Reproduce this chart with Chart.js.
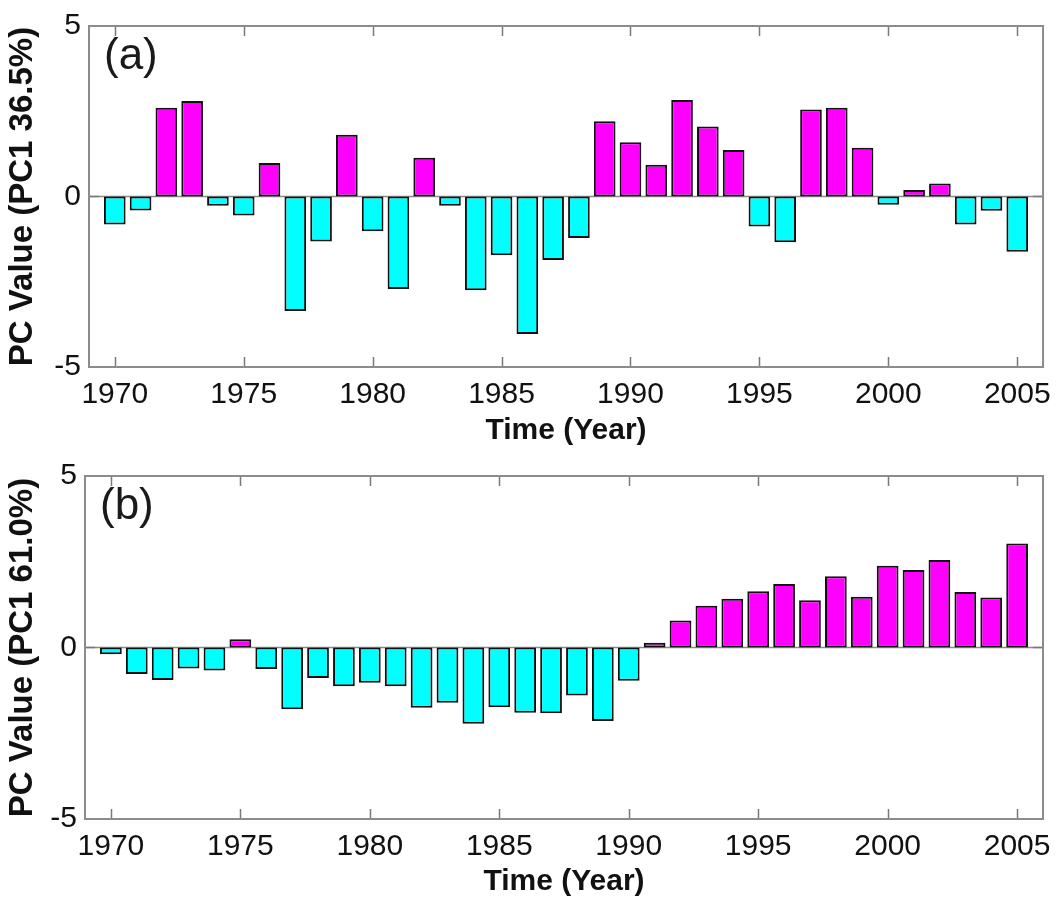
<!DOCTYPE html>
<html>
<head>
<meta charset="utf-8">
<title>PC1 time series</title>
<script src="https://cdn.jsdelivr.net/npm/chart.js@4.4.1/dist/chart.umd.min.js"></script>
<style>
  html, body { margin: 0; padding: 0; background: #fff; }
  canvas { display: block; }
</style>
</head>
<body>
<canvas id="panel-a" width="1061" height="450"></canvas>
<canvas id="panel-b" width="1061" height="450"></canvas>
<script>
// Years on the x axis, one bar per year
const years = [1970, 1971, 1972, 1973, 1974, 1975, 1976, 1977, 1978, 1979,
  1980, 1981, 1982, 1983, 1984, 1985, 1986, 1987, 1988, 1989,
  1990, 1991, 1992, 1993, 1994, 1995, 1996, 1997, 1998, 1999,
  2000, 2001, 2002, 2003, 2004, 2005];

// PC1 scores, panel (a)
const pcA = [-0.82, -0.41, 2.60, 2.80, -0.27, -0.56, 0.98, -3.36, -1.32, 1.81,
  -1.02, -2.71, 1.14, -0.27, -2.75, -1.72, -4.03, -1.86, -1.22, 2.21,
  1.59, 0.93, 2.83, 2.05, 1.36, -0.88, -1.34, 2.55, 2.60, 1.43,
  -0.24, 0.19, 0.38, -0.82, -0.42, -1.62];

// PC1 scores, panel (b)
const pcB = [-0.20, -0.77, -0.95, -0.61, -0.67, 0.24, -0.63, -1.80, -0.89, -1.13,
  -1.03, -1.13, -1.76, -1.61, -2.22, -1.74, -1.90, -1.92, -1.40, -2.14,
  -0.97, 0.14, 0.79, 1.22, 1.42, 1.64, 1.85, 1.38, 2.08, 1.48,
  2.38, 2.26, 2.55, 1.62, 1.46, 3.03];

const xTicks = [1970, 1975, 1980, 1985, 1990, 1995, 2000, 2005];
const yTicks = [-5, 0, 5];

const FONT = '"Liberation Sans", Arial, sans-serif';
const POS_COLOR = '#ff00ff';
const NEG_COLOR = '#00ffff';

// zero baseline behind the bars, then box, inward ticks and panel tag on top
const framePlugin = {
  id: 'frame',
  beforeDatasetsDraw(chart) {
    const { ctx, chartArea: a, scales: { y } } = chart;
    const y0 = y.getPixelForValue(0);
    ctx.save();
    ctx.strokeStyle = '#8a8a8a';
    ctx.lineWidth = 1.5;
    ctx.beginPath();
    ctx.moveTo(a.left, y0);
    ctx.lineTo(a.right, y0);
    ctx.stroke();
    ctx.restore();
  },
  afterDatasetsDraw(chart, args, opts) {
    const { ctx, chartArea: a, scales: { x, y } } = chart;
    ctx.save();
    ctx.strokeStyle = '#7a7a7a';
    ctx.lineWidth = 1.5;
    ctx.beginPath();
    xTicks.forEach(v => {
      const px = Math.round(x.getPixelForValue(v)) + 0.5;
      ctx.moveTo(px, a.top);
      ctx.lineTo(px, a.top + 10);
      ctx.moveTo(px, a.bottom);
      ctx.lineTo(px, a.bottom - 10);
    });
    yTicks.forEach(v => {
      const py = y.getPixelForValue(v);
      ctx.moveTo(a.left, py);
      ctx.lineTo(a.left + 10, py);
      ctx.moveTo(a.right, py);
      ctx.lineTo(a.right - 10, py);
    });
    ctx.stroke();

    ctx.strokeStyle = '#8c8c8c';
    ctx.lineWidth = 2;
    ctx.strokeRect(a.left, a.top, a.right - a.left, a.bottom - a.top);

    ctx.fillStyle = '#1a1a1a';
    ctx.font = '44px ' + FONT;
    ctx.textAlign = 'left';
    ctx.textBaseline = 'middle';
    ctx.fillText(opts.tag, a.left + 15, a.top + 31);
    ctx.restore();
  }
};

function makePanel(canvasId, values, cfg) {
  const points = years.map((yr, i) => ({ x: yr, y: values[i] }));
  const ctx = document.getElementById(canvasId).getContext('2d');
  return new Chart(ctx, {
    type: 'bar',
    data: {
      datasets: [{
        data: points,
        backgroundColor: values.map(v => v >= 0 ? POS_COLOR : NEG_COLOR),
        borderColor: '#111',
        borderWidth: 2,
        borderSkipped: false,
        barPercentage: 0.84,
        categoryPercentage: 1
      }]
    },
    options: {
      responsive: false,
      animation: false,
      layout: { padding: { top: cfg.top, right: cfg.right, left: 0, bottom: 0 } },
      plugins: {
        legend: { display: false },
        tooltip: { enabled: false },
        frame: { tag: cfg.tag }
      },
      scales: {
        x: {
          type: 'linear',
          min: 1969,
          max: 2006,
          offset: false,
          afterBuildTicks: s => { s.ticks = xTicks.map(v => ({ value: v })); },
          afterFit: s => { s.height = cfg.xHeight; },
          grid: { display: false, drawTicks: false },
          border: { display: false },
          ticks: {
            autoSkip: false,
            maxRotation: 0,
            padding: 10,
            color: '#111',
            font: { family: FONT, size: 30 },
            callback: v => String(v)
          },
          title: {
            display: true,
            text: 'Time (Year)',
            color: '#111',
            font: { family: FONT, size: 30, weight: 'bold' },
            padding: { top: 0, bottom: cfg.titlePad }
          }
        },
        y: {
          min: -5,
          max: 5,
          afterBuildTicks: s => { s.ticks = yTicks.map(v => ({ value: v })); },
          afterFit: s => { s.width = cfg.left; },
          grid: { display: false, drawTicks: false },
          border: { display: false },
          ticks: {
            padding: 8,
            color: '#111',
            font: { family: FONT, size: 30 }
          },
          title: {
            display: true,
            text: cfg.yTitle,
            color: '#111',
            font: { family: FONT, size: 33, weight: 'bold' },
            padding: { top: 3, bottom: 0 }
          }
        }
      }
    },
    plugins: [framePlugin]
  });
}

makePanel('panel-a', pcA, {
  tag: '(a)', yTitle: 'PC Value (PC1 36.5%)',
  top: 21, right: 14, left: 89, xHeight: 83, titlePad: 1
});
makePanel('panel-b', pcB, {
  tag: '(b)', yTitle: 'PC Value (PC1 61.0%)',
  top: 21, right: 18, left: 85, xHeight: 81, titlePad: 0
});
</script>
</body>
</html>
